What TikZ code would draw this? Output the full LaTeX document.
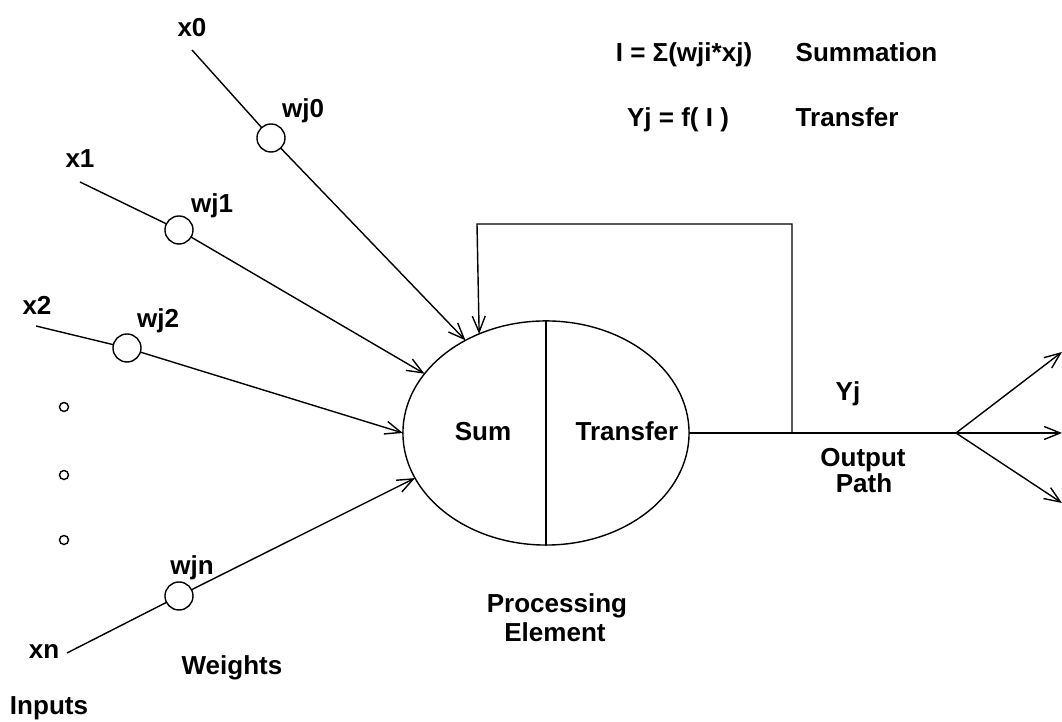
\documentclass[tikz,border=0pt]{standalone}
\usepackage{fontspec}
\setmainfont{Liberation Sans}
\usetikzlibrary{arrows.meta,shapes.geometric}
\begin{document}
\begin{tikzpicture}[x=0.01cm,y=-0.01cm,line width=0.4pt,
  lbl/.style={font=\fontsize{7.4}{8.9}\selectfont\bfseries,inner sep=0,text height=0.186cm,text depth=0pt},
  wt/.style={circle,draw,minimum size=0.28cm,inner sep=0,outer sep=0},
  dotc/.style={circle,draw,minimum size=0.09cm,inner sep=0},
  arr/.style={-{Straight Barb[length=0.16cm,width=0.13cm]}}]
\useasboundingbox (0,0) rectangle (1062,722);

% processing element
\node[ellipse,draw,minimum width=2.86cm,minimum height=2.24cm,inner sep=0,outer sep=0] (el) at (546,433) {};
\draw (el.north) -- (el.south);
\node[lbl] (sum) at (483,431) {Sum};
\node[lbl] (tr) at (627,431) {Transfer};

% inputs
\coordinate (s0) at (192,50);
\coordinate (s1) at (80,182);
\coordinate (s2) at (36,326);
\coordinate (sn) at (67,653);
\node[wt] (w0) at (271,138) {};
\node[wt] (w1) at (179,230) {};
\node[wt] (w2) at (127,348) {};
\node[wt] (wn) at (179,596) {};
\draw (s0) -- (w0);
\draw (s1) -- (w1);
\draw (s2) -- (w2);
\draw (sn) -- (wn);
\draw[arr] (w0) -- (el.131.5);
\draw[arr] (w1) -- (el.154);
\draw[arr] (w2) -- (el.180);
\draw[arr] (wn) -- (el.199.5);

\node[dotc] (d1) at (64,407) {};
\node[dotc] (d2) at (64,475) {};
\node[dotc] (d3) at (64,540) {};

% labels
\node[lbl] (lx0) at (192,27) {x0};
\node[lbl] (lw0) at (303,108) {wj0};
\node[lbl] (lx1) at (80,158) {x1};
\node[lbl] (lw1) at (212,203) {wj1};
\node[lbl] (lx2) at (37,305) {x2};
\node[lbl] (lw2) at (158,318) {wj2};
\node[lbl] (lwn) at (192,565) {wjn};
\node[lbl] (lxn) at (44,649) {xn};
\node[lbl] (lwts) at (232,665) {Weights};
\node[lbl] (linp) at (49,705) {Inputs};
\node[lbl] (lpe1) at (557,603) {Processing};
\node[lbl] (lpe2) at (555,632) {Element};

% output and feedback
\coordinate (j) at (792,433);
\coordinate (fbR) at (792,224);
\coordinate (fbL) at (477,224);
\coordinate (br) at (956,433);
\coordinate (oup) at (1062,352);
\coordinate (omid) at (1062,433);
\coordinate (odn) at (1062,503);
\draw (el.east) -- (br);
\draw[arr] (j) -- (fbR) -- (fbL) -- (el.124.6);
\draw[arr] (br) -- (oup);
\draw[arr] (br) -- (omid);
\draw[arr] (br) -- (odn);
\node[lbl] (lyj) at (848,391) {Yj};
\node[lbl] (lout) at (863,457) {Output};
\node[lbl] (lpath) at (864,483) {Path};

% formulas
\node[lbl] (f1) at (684,52) {I = Σ(wji*xj)};
\node[lbl,anchor=west] (f1t) at (795,52) {Summation};
\node[lbl] (f2) at (678,117) {Yj = f( I )};
\node[lbl,anchor=west] (f2t) at (795,117) {Transfer};
\end{tikzpicture}
\end{document}
